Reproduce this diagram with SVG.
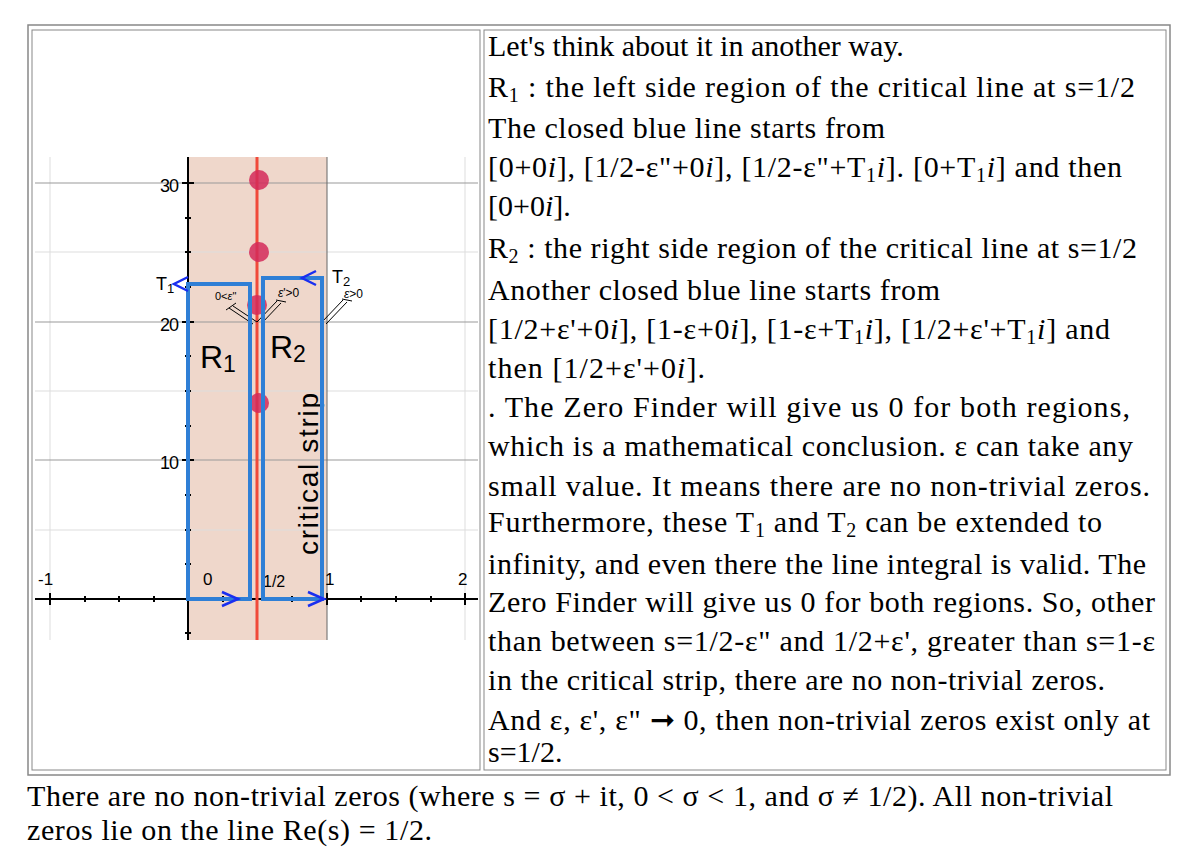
<svg xmlns="http://www.w3.org/2000/svg" width="1200" height="850" viewBox="0 0 1200 850">
<style>
.t{font-family:"Liberation Serif",serif;font-size:30px;fill:#000}
.s{font-family:"Liberation Sans",sans-serif;fill:#000}
.g{stroke:#999;stroke-width:1}
.gf{stroke:#ddd;stroke-width:1}
.b{fill:none;stroke:#2f7fd6;stroke-width:4}
.ar{fill:none;stroke:#1a2ff0;stroke-width:2.5}
.h{stroke:#000;stroke-width:1}
.dot{fill:#d32a5a;opacity:0.85}
</style>
<rect width="1200" height="850" fill="#fff"/>
<rect x="28" y="25" width="1142" height="750" fill="none" stroke="#888" stroke-width="1.5"/>
<rect x="32" y="30" width="448" height="740" fill="none" stroke="#888" stroke-width="1"/>
<rect x="484" y="30" width="682" height="740" fill="none" stroke="#888" stroke-width="1"/>
<g id="plot">
<rect x="188" y="157" width="139" height="483" fill="#efd7cb"/>
<line class="gf" x1="50" y1="157" x2="50" y2="640"/>
<line class="gf" x1="465" y1="157" x2="465" y2="640"/>
<line class="gf" x1="35" y1="252" x2="478" y2="252"/>
<line class="gf" x1="35" y1="391" x2="478" y2="391"/>
<line class="gf" x1="35" y1="530" x2="478" y2="530"/>
<line class="g" x1="35" y1="183" x2="478" y2="183"/>
<line class="g" x1="35" y1="322" x2="478" y2="322"/>
<line class="g" x1="35" y1="460" x2="478" y2="460"/>
<line x1="327" y1="157" x2="327" y2="640" stroke="#666" stroke-width="1"/>
<line x1="188" y1="157" x2="188" y2="640" stroke="#000" stroke-width="2"/>
<line x1="35" y1="599" x2="478" y2="599" stroke="#000" stroke-width="2"/>
<g stroke="#000" stroke-width="2">
<line x1="50" y1="593" x2="50" y2="605"/><line x1="85" y1="596" x2="85" y2="602"/><line x1="119" y1="596" x2="119" y2="602"/><line x1="154" y1="596" x2="154" y2="602"/>
<line x1="223" y1="596" x2="223" y2="602"/><line x1="292" y1="596" x2="292" y2="602"/><line x1="327" y1="593" x2="327" y2="605"/>
<line x1="361" y1="596" x2="361" y2="602"/><line x1="396" y1="596" x2="396" y2="602"/><line x1="431" y1="596" x2="431" y2="602"/><line x1="465" y1="593" x2="465" y2="605"/>
<line x1="182" y1="183" x2="194" y2="183"/><line x1="185" y1="218" x2="191" y2="218"/><line x1="185" y1="252" x2="191" y2="252"/><line x1="185" y1="287" x2="191" y2="287"/>
<line x1="182" y1="322" x2="194" y2="322"/><line x1="185" y1="356" x2="191" y2="356"/><line x1="185" y1="391" x2="191" y2="391"/><line x1="185" y1="426" x2="191" y2="426"/>
<line x1="182" y1="460" x2="194" y2="460"/><line x1="185" y1="495" x2="191" y2="495"/><line x1="185" y1="530" x2="191" y2="530"/><line x1="185" y1="564" x2="191" y2="564"/><line x1="185" y1="633" x2="191" y2="633"/>
</g>
<line x1="257" y1="157" x2="257" y2="640" stroke="#f04a3a" stroke-width="3"/>
<circle class="dot" cx="259" cy="180" r="10"/>
<circle class="dot" cx="259" cy="252" r="10"/>
<circle class="dot" cx="257" cy="305" r="10"/>
<circle class="dot" cx="259" cy="403" r="10"/>
<text class="s" x="160" y="192" font-size="18" letter-spacing="-1">30</text>
<text class="s" x="160" y="331" font-size="18" letter-spacing="-1">20</text>
<text class="s" x="160" y="469" font-size="18" letter-spacing="-1">10</text>
<text class="s" x="38" y="585" font-size="17">-1</text>
<text class="s" x="203" y="585" font-size="17">0</text>
<text class="s" x="263" y="587" font-size="16">1/2</text>
<text class="s" x="325" y="585" font-size="17">1</text>
<text class="s" x="458" y="585" font-size="17">2</text>
<text class="s" x="156" y="290" font-size="18">T<tspan font-size="13" dy="3">1</tspan></text>
<text class="s" x="332" y="283" font-size="18">T<tspan font-size="13" dy="3">2</tspan></text>
<text class="s" x="344" y="298" font-size="12"><tspan font-style="italic">ε</tspan>&gt;0</text>
<text class="s" x="215" y="300" font-size="11">0&lt;<tspan font-style="italic">ε</tspan>"</text>
<text class="s" x="278" y="297" font-size="12"><tspan font-style="italic">ε</tspan>'&gt;0</text>
<g class="h">
<line x1="257" y1="322" x2="233" y2="306"/><line x1="253" y1="324" x2="229" y2="308"/><line x1="236" y1="303" x2="226" y2="310"/>
<line x1="257" y1="322" x2="277" y2="301"/><line x1="261" y1="324" x2="281" y2="303"/><line x1="276" y1="300" x2="286" y2="302"/>
<line x1="322" y1="322" x2="343" y2="300"/><line x1="326" y1="324" x2="347" y2="302"/><line x1="342" y1="299" x2="352" y2="301"/>
</g>
<text class="s" x="200" y="368" font-size="32">R<tspan font-size="23" dy="4">1</tspan></text>
<text class="s" x="270" y="358" font-size="32">R<tspan font-size="23" dy="4">2</tspan></text>
<text class="s" x="318" y="555" font-size="28" textLength="162" transform="rotate(-90 318 555)">critical strip</text>
</g>
<g id="paths">
<path class="b" d="M188,599 V284 H250 V599 Z"/>
<path class="b" d="M263,599 V278 H322 V599 Z"/>
<path class="ar" d="M222,592 L238,599 L222,606"/>
<path class="ar" d="M308,592 L324,599 L308,606"/>
<path class="ar" d="M188,277 L174,284 L188,291"/>
<path class="ar" d="M316,271 L302,278 L316,285"/>
</g>
<g id="text">
<text class="t" x="488" y="56">Let's think about it in another way.</text>
<text class="t" x="488" y="97" textLength="647">R<tspan font-size="20" dy="5">1</tspan><tspan dy="-5"> : the left side region of the critical line at s=1/2</tspan></text>
<text class="t" x="488" y="138" textLength="397">The closed blue line starts from</text>
<text class="t" x="488" y="177" textLength="634">[0+0<tspan font-style="italic">i</tspan>], [1/2-ε"+0<tspan font-style="italic">i</tspan>], [1/2-ε"+T<tspan font-size="20" dy="5">1</tspan><tspan dy="-5" font-style="italic">i</tspan>]. [0+T<tspan font-size="20" dy="5">1</tspan><tspan dy="-5" font-style="italic">i</tspan>] and then</text>
<text class="t" x="488" y="216">[0+0<tspan font-style="italic">i</tspan>].</text>
<text class="t" x="488" y="258" textLength="649">R<tspan font-size="20" dy="5">2</tspan><tspan dy="-5"> : the right side region of the critical line at s=1/2</tspan></text>
<text class="t" x="488" y="300" textLength="452">Another closed blue line starts from</text>
<text class="t" x="488" y="339" textLength="622">[1/2+ε'+0<tspan font-style="italic">i</tspan>], [1-ε+0<tspan font-style="italic">i</tspan>], [1-ε+T<tspan font-size="20" dy="5">1</tspan><tspan dy="-5" font-style="italic">i</tspan>], [1/2+ε'+T<tspan font-size="20" dy="5">1</tspan><tspan dy="-5" font-style="italic">i</tspan>] and</text>
<text class="t" x="488" y="378" textLength="217">then [1/2+ε'+0<tspan font-style="italic">i</tspan>].</text>
<text class="t" x="488" y="417" textLength="642">. The Zero Finder will give us 0 for both regions,</text>
<text class="t" x="488" y="456" textLength="645">which is a mathematical conclusion. ε can take any</text>
<text class="t" x="488" y="496" textLength="662">small value. It means there are no non-trivial zeros.</text>
<text class="t" x="488" y="532" textLength="614">Furthermore, these T<tspan font-size="20" dy="5">1</tspan><tspan dy="-5"> and T</tspan><tspan font-size="20" dy="5">2</tspan><tspan dy="-5"> can be extended to</tspan></text>
<text class="t" x="488" y="574" textLength="658">infinity, and even there the line integral is valid. The</text>
<text class="t" x="488" y="612" textLength="667">Zero Finder will give us 0 for both regions. So, other</text>
<text class="t" x="488" y="651" textLength="667">than between s=1/2-ε" and 1/2+ε', greater than s=1-ε</text>
<text class="t" x="488" y="690" textLength="617">in the critical strip, there are no non-trivial zeros.</text>
<text class="t" x="488" y="730" textLength="662">And ε, ε', ε" ➞ 0, then non-trivial zeros exist only at</text>
<text class="t" x="488" y="762">s=1/2.</text>
<text class="t" x="27" y="806" textLength="1086">There are no non-trivial zeros (where s = σ + it, 0 &lt; σ &lt; 1, and σ ≠ 1/2). All non-trivial</text>
<text class="t" x="27" y="840" textLength="405">zeros lie on the line Re(s) = 1/2.</text>
</g>
</svg>
